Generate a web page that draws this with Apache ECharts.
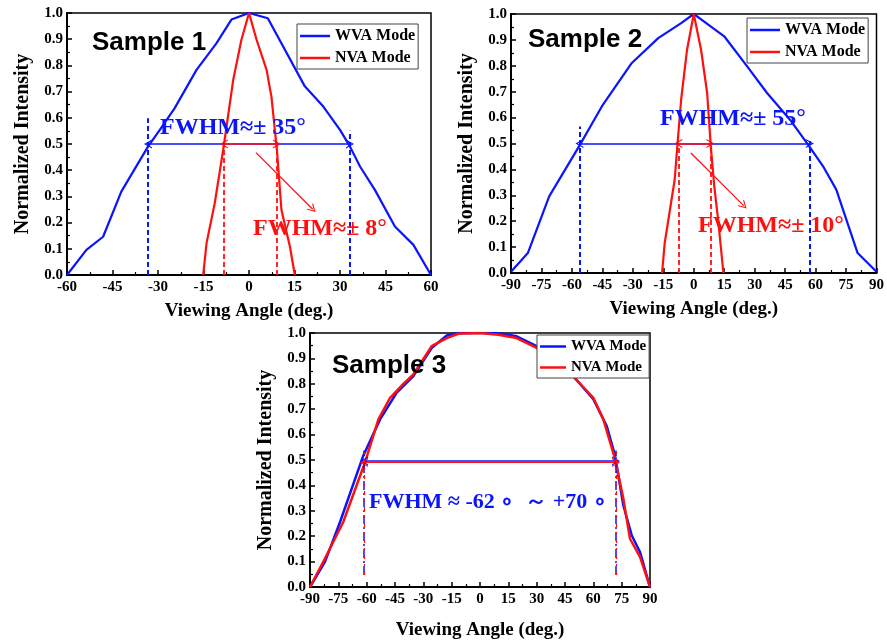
<!DOCTYPE html>
<html>
<head>
<meta charset="utf-8">
<script src="https://cdn.jsdelivr.net/npm/echarts/dist/echarts.min.js"></script>
<style>
  html, body { margin:0; padding:0; background:#fff; }
  #chart { width:887px; height:641px; }
</style>
</head>
<body>
<div id="chart"></div>
<script>
// ---------------- DATA ----------------
// Sample 1
const s1WvaAngle = [-60,-53.6,-48.1,-42.1,-33.3,-29.4,-24.5,-17.3,-10.7,-5.8,0,6.2,18.4,24.5,30,33.3,36.6,41.5,48.1,54.2,60];
const s1WvaValue = [0,0.096,0.146,0.318,0.49,0.554,0.637,0.783,0.885,0.975,1,0.98,0.72,0.643,0.554,0.49,0.414,0.325,0.185,0.115,0];
const s1NvaAngle = [-15.1,-14.0,-11.3,-8.5,-5.2,-2.5,0,2.5,5.8,7.4,9.2,10.7,13.5,15.1];
const s1NvaValue = [0,0.121,0.274,0.478,0.745,0.898,1,0.898,0.783,0.68,0.478,0.248,0.108,0];
// Sample 2
const s2WvaAngle = [-90,-81.7,-71.2,-56.5,-45.2,-30.5,-17.5,-6.2,0,5.3,15,26.3,36.1,47.4,56.9,63.7,70.2,80.7,90];
const s2WvaValue = [0.005,0.077,0.296,0.489,0.644,0.811,0.907,0.965,1,0.97,0.914,0.798,0.695,0.592,0.489,0.412,0.322,0.077,0.005];
const s2NvaAngle = [-15.6,-14.3,-9.4,-8.1,-6.2,-3.3,0,3.6,6.6,8.4,10.1,12.0,14.6];
const s2NvaValue = [0,0.116,0.36,0.489,0.67,0.862,1,0.862,0.695,0.489,0.335,0.206,0];
// Sample 3
const s3WvaAngle = [-90,-82.1,-74.1,-61.8,-52.9,-44.1,-35.3,-25.6,-17.6,-11.5,0,8.8,19.4,30,40.6,49.4,60,67.1,71.5,75.9,80.3,84.7,90];
const s3WvaValue = [0,0.099,0.256,0.517,0.66,0.765,0.83,0.941,0.99,1,1,1,0.987,0.948,0.896,0.83,0.739,0.634,0.517,0.321,0.204,0.138,0];
const s3NvaAngle = [-90,-82.1,-72.4,-60.9,-53.8,-47.6,-40.6,-35.3,-25.6,-17.6,-11.5,0,9.7,19.4,30,47.6,60,65.3,71.5,75.9,79.4,84.7,90];
const s3NvaValue = [0,0.112,0.256,0.49,0.66,0.745,0.8,0.837,0.948,0.98,0.997,1,0.993,0.98,0.941,0.843,0.745,0.66,0.504,0.347,0.19,0.119,0];

// FWHM annotation values (angles of half maximum, and heights of guide lines)
const s1WvaHalf = [-33.3, 33.3];
const s1WvaGuideTop = [0.598, 0.551];
const s1NvaHalf = [-8.3, 9.2];
const s1NvaGuideTop = [0.5, 0.5];
const s1Pointer = [[2.3, 0.467], [21.0, 0.251]];

const s2WvaHalf = [-56.3, 57.2];
const s2WvaGuideTop = [0.566, 0.51];
const s2NvaHalf = [-7.6, 8.2];
const s2NvaGuideTop = [0.5, 0.5];
const s2Pointer = [[-1.4, 0.463], [24.6, 0.26]];

const s3Half = [-61.4, 72];
const s3GuideRange = [0.047, 0.537];
const halfLevel = 0.5;

const legendNames = ['WVA Mode', 'NVA Mode'];
const yTicks = [0, 1, 0.1];

// ---------------- STYLE ----------------
const BLUE = '#0a14ff';
const RED = '#ff1010';
const SERIF = '"Liberation Serif", "Times New Roman", serif';
const SANS = '"Liberation Sans", Arial, sans-serif';
const chevron = 'path://M5,0 L10,10 L8.6,10 L5,2.8 L1.4,10 L0,10 Z';

function pairs(xs, ys) { return xs.map((x, i) => [x, ys[i]]); }

function xAxis(gi, min, max, nameGap) {
  return {
    type: 'value', gridIndex: gi, min: min, max: max, interval: 15,
    axisLine: { show: true, onZero: false, lineStyle: { color: '#000', width: 2 } },
    axisTick: { show: true, inside: true, length: 5, lineStyle: { color: '#000', width: 1.5 } },
    minorTick: { show: true, splitNumber: 2, length: 3, lineStyle: { color: '#000', width: 1.2 } },
    splitLine: { show: false },
    axisLabel: { color: '#000', fontFamily: SERIF, fontWeight: 'bold', fontSize: 15, margin: 5 },
    name: 'Viewing Angle (deg.)', nameLocation: 'middle', nameGap: nameGap,
    nameTextStyle: { color: '#000', fontFamily: SERIF, fontWeight: 'bold', fontSize: 19 }
  };
}
function yAxis(gi, nameGap) {
  return {
    type: 'value', gridIndex: gi, min: yTicks[0], max: yTicks[1], interval: yTicks[2],
    axisLine: { show: true, onZero: false, lineStyle: { color: '#000', width: 2 } },
    axisTick: { show: true, inside: true, length: 5, lineStyle: { color: '#000', width: 1.5 } },
    minorTick: { show: true, splitNumber: 2, length: 3, lineStyle: { color: '#000', width: 1.2 } },
    splitLine: { show: false },
    axisLabel: { color: '#000', fontFamily: SERIF, fontWeight: 'bold', fontSize: 15, margin: 4,
                 formatter: v => v.toFixed(1) },
    name: 'Normalized Intensity', nameLocation: 'middle', nameRotate: 90, nameGap: nameGap,
    nameTextStyle: { color: '#000', fontFamily: SERIF, fontWeight: 'bold', fontSize: 20 }
  };
}
function legend(left, top, fontSize, itemWidth) {
  return {
    orient: 'vertical', left: left, top: top, data: legendNames, selectedMode: false,
    icon: 'rect', itemWidth: itemWidth, itemHeight: 2.5, itemGap: 6,
    padding: [4, 3, 3, 3], borderColor: '#444', borderWidth: 1, backgroundColor: '#fff', z: 10,
    textStyle: { color: '#000', fontFamily: SERIF, fontWeight: 'bold', fontSize: fontSize }
  };
}
function seg(p1, p2, color, type, width, s1, s2) {
  const ls = { color: color, type: type, width: width };
  return [
    { coord: p1, symbol: s1 || 'none', symbolSize: [9, 8], lineStyle: ls, itemStyle: { color: color } },
    { coord: p2, symbol: s2 || 'none', symbolSize: [9, 8], lineStyle: ls, itemStyle: { color: color } }
  ];
}
function markLine(data) {
  return { silent: true, animation: false, symbol: 'none', label: { show: false }, data: data };
}
function lineSeries(name, xs, ys, color, gi, ml, width) {
  return {
    type: 'line', name: name, xAxisIndex: gi, yAxisIndex: gi,
    data: pairs(xs, ys), showSymbol: false, symbol: 'none', animation: false,
    color: color, lineStyle: { color: color, width: width || 2.2 },
    markLine: ml
  };
}
function text(str, x, y, color, size, family) {
  return { type: 'text', x: x, y: y, z: 20,
    style: { text: str, fill: color, fontSize: size, fontFamily: family || SERIF, fontWeight: 'bold', verticalAlign: 'middle' } };
}

// ---------------- ANNOTATIONS ----------------
const ann1Blue = markLine([
  seg([s1WvaHalf[0], 0], [s1WvaHalf[0], s1WvaGuideTop[0]], BLUE, [5, 3], 2),
  seg([s1WvaHalf[1], 0], [s1WvaHalf[1], s1WvaGuideTop[1]], BLUE, [5, 3], 2),
  seg([s1WvaHalf[0], halfLevel], [s1WvaHalf[1], halfLevel], BLUE, 'solid', 1.5, chevron, chevron)
]);
const ann1Red = markLine([
  seg([s1NvaHalf[0], 0], [s1NvaHalf[0], s1NvaGuideTop[0]], RED, [5, 3], 1.8),
  seg([s1NvaHalf[1], 0], [s1NvaHalf[1], s1NvaGuideTop[1]], RED, [5, 3], 1.8),
  seg([s1NvaHalf[0], halfLevel], [s1NvaHalf[1], halfLevel], RED, 'solid', 1.5, chevron, chevron),
  seg(s1Pointer[0], s1Pointer[1], RED, 'solid', 1.3, 'none', chevron)
]);
const ann2Blue = markLine([
  seg([s2WvaHalf[0], 0], [s2WvaHalf[0], s2WvaGuideTop[0]], BLUE, [5, 3], 2),
  seg([s2WvaHalf[1], 0], [s2WvaHalf[1], s2WvaGuideTop[1]], BLUE, [5, 3], 2),
  seg([s2WvaHalf[0], halfLevel], [s2WvaHalf[1], halfLevel], BLUE, 'solid', 1.5, chevron, chevron)
]);
const ann2Red = markLine([
  seg([s2NvaHalf[0], 0], [s2NvaHalf[0], s2NvaGuideTop[0]], RED, [5, 3], 1.8),
  seg([s2NvaHalf[1], 0], [s2NvaHalf[1], s2NvaGuideTop[1]], RED, [5, 3], 1.8),
  seg([s2NvaHalf[0], halfLevel], [s2NvaHalf[1], halfLevel], RED, 'solid', 1.5, chevron, chevron),
  seg(s2Pointer[0], s2Pointer[1], RED, 'solid', 1.3, 'none', chevron)
]);
const ann3Blue = markLine([
  seg([s3Half[0], s3GuideRange[0]], [s3Half[0], s3GuideRange[1]], BLUE, [9, 3, 2, 3], 1.5),
  seg([s3Half[1], s3GuideRange[0]], [s3Half[1], s3GuideRange[1]], BLUE, [9, 3, 2, 3], 1.5),
  seg([s3Half[0], halfLevel - 0.004], [s3Half[1], halfLevel - 0.004], BLUE, 'solid', 1.5, chevron, chevron)
]);
const ann3Red = markLine([
  seg([s3Half[0], s3GuideRange[0]], [s3Half[0], s3GuideRange[1]], RED, [4, 5, 2, 5], 1.2),
  seg([s3Half[1], s3GuideRange[0]], [s3Half[1], s3GuideRange[1]], RED, [4, 5, 2, 5], 1.2),
  seg([s3Half[0], halfLevel - 0.01], [s3Half[1], halfLevel - 0.01], RED, 'solid', 1, chevron, chevron)
]);

// ---------------- CHART ----------------
const chart = echarts.init(document.getElementById('chart'), null, { renderer: 'canvas' });
chart.setOption({
  backgroundColor: '#fff',
  animation: false,
  grid: [
    { left: 67, top: 13, width: 364, height: 262, show: true, borderColor: '#000', borderWidth: 1.5, backgroundColor: 'transparent' },
    { left: 511, top: 14, width: 371, height: 259, show: true, borderColor: '#000', borderWidth: 1.5, backgroundColor: 'transparent' },
    { left: 310, top: 333, width: 340, height: 255, show: true, borderColor: '#000', borderWidth: 1.5, backgroundColor: 'transparent' }
  ],
  xAxis: [ xAxis(0, -60, 60, 27), xAxis(1, -90, 90, 27), xAxis(2, -90, 90, 34) ],
  yAxis: [ yAxis(0, 34), yAxis(1, 34), yAxis(2, 34) ],
  legend: [ legend(297, 24, 16, 30), legend(747, 18, 16, 30), legend(537, 335, 15, 26) ],
  series: [
    lineSeries('WVA Mode', s1WvaAngle, s1WvaValue, BLUE, 0, ann1Blue),
    lineSeries('NVA Mode', s1NvaAngle, s1NvaValue, RED, 0, ann1Red),
    lineSeries('WVA Mode', s2WvaAngle, s2WvaValue, BLUE, 1, ann2Blue),
    lineSeries('NVA Mode', s2NvaAngle, s2NvaValue, RED, 1, ann2Red),
    lineSeries('WVA Mode', s3WvaAngle, s3WvaValue, BLUE, 2, ann3Blue, 2.5),
    lineSeries('NVA Mode', s3NvaAngle, s3NvaValue, RED, 2, ann3Red, 2.5)
  ],
  graphic: [
    text('Sample 1', 92, 43, '#000', 26, SANS),
    text('Sample 2', 528, 40, '#000', 26, SANS),
    text('Sample 3', 332, 366, '#000', 26, SANS),
    text('FWHM≈± 35°', 160, 128, BLUE, 24),
    text('FWHM≈± 8°', 253, 229, RED, 24),
    text('FWHM≈± 55°', 660, 119, BLUE, 24),
    text('FWHM≈± 10°', 698, 226, RED, 24),
    text('FWHM ≈ -62 ∘  ～ +70 ∘', 369, 502, BLUE, 22)
  ]
});
</script>
</body>
</html>
